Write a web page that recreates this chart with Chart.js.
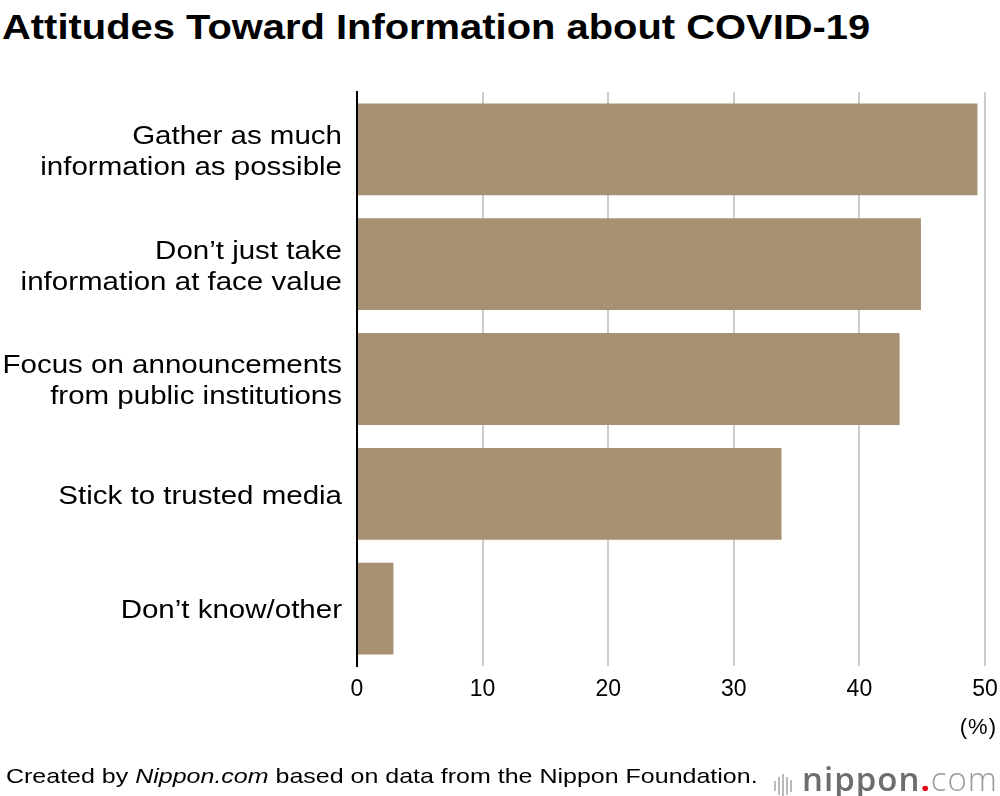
<!DOCTYPE html>
<html>
<head>
<meta charset="utf-8">
<script src="https://cdn.jsdelivr.net/npm/chart.js@4.4.0/dist/chart.umd.min.js"></script>
<style>
  html, body { margin: 0; padding: 0; background: #fff; }
  body { width: 1000px; height: 796px; position: relative; overflow: hidden;
         font-family: "Liberation Sans", Arial, sans-serif; color: #000; }
  #title { position: absolute; left: 2px; top: 7px; font-size: 35px; font-weight: bold; white-space: nowrap;
           transform: scaleX(1.14); transform-origin: 0 0; }
  #wrap { position: absolute; left: 0; top: 0; width: 1000px; height: 796px; }
  #unit { position: absolute; right: 3px; top: 714px; font-size: 22px; letter-spacing: 1px; }
  #credit { position: absolute; left: 6px; top: 764px; font-size: 21px; white-space: nowrap;
            transform: scaleX(1.19); transform-origin: 0 0; }
  #logo { position: absolute; right: 2px; top: 756px; font-family: "Open Sans", "DejaVu Sans", sans-serif;
          font-size: 33px; color: #6d6d6d; letter-spacing: 1px; white-space: nowrap; }
  #logo .bars { display: inline-block; vertical-align: middle; margin-right: 8px; }
  #logo .bars i { display: inline-block; width: 2px; background: #bbb; margin-right: 2px; vertical-align: middle; }
  #logo b { font-weight: 600; }
  #logo .dot { color: #e60012; font-weight: bold; }
  #logo .com { color: #9a9a9a; font-weight: 300; }
</style>
</head>
<body>
<div id="title">Attitudes Toward Information about COVID-19</div>
<div id="wrap"><canvas id="chart"></canvas></div>
<div id="unit">(%)</div>
<div id="credit">Created by <i>Nippon.com</i> based on data from the Nippon Foundation.</div>
<div id="logo"><span class="bars"><i style="height:10px"></i><i style="height:18px"></i><i style="height:24px"></i><i style="height:18px"></i><i style="height:12px"></i></span><b>nippon</b><span class="dot">.</span><span class="com">com</span></div>
<script>
const categories = [
    ["Gather as much", "information as possible"],
    ["Don\u2019t just take", "information at face value"],
    ["Focus on announcements", "from public institutions"],
    "Stick to trusted media",
    "Don\u2019t know/other"
];
const shares = [49.4, 44.9, 43.2, 33.8, 2.9];
const xTicks = [0, 10, 20, 30, 40, 50];

const font = "'Liberation Sans', Arial, sans-serif";
const labelStretch = 1.18;   // the original type is wider than Arial

// stretch the category labels sideways, anchored on their right edge
const wideLabels = {
    id: "wideLabels",
    afterLayout: chart => {
        const y = chart.scales.y;
        if (!y || y._wide) return;
        y._wide = true;
        const base = Object.getPrototypeOf(y).drawLabels;
        y.drawLabels = function (area) {
            const ctx = this.ctx;
            const x0 = this.right - this.options.ticks.padding;
            ctx.save();
            ctx.translate(x0, 3);
            ctx.scale(labelStretch, 1);
            ctx.translate(-x0, 0);
            base.call(this, area);
            ctx.restore();
        };
    }
};

new Chart(document.getElementById("chart"), {
    type: "bar",
    data: {
        labels: categories,
        datasets: [{
            data: shares,
            backgroundColor: "#a89173",
            borderWidth: 0,
            categoryPercentage: 0.8,
            barPercentage: 1.0
        }]
    },
    options: {
        indexAxis: "y",
        responsive: true, maintainAspectRatio: false,
        animation: false,
        layout: { padding: { top: 92, right: 15, bottom: 80, left: 0 } },
        plugins: { legend: { display: false }, tooltip: { enabled: false } },
        scales: {
            x: {
                min: 0, max: 50,
                afterBuildTicks: s => { s.ticks = xTicks.map(v => ({ value: v })); },
                afterFit: s => { s.height = 50; s.paddingLeft = 0; s.paddingRight = 0; },
                grid: { color: "#cccccc", lineWidth: 2, drawTicks: false },
                border: { display: false },
                ticks: { color: "#000", padding: 10, font: { family: font, size: 23 } }
            },
            y: {
                afterFit: s => { s.width = 357; },
                grid: { display: false, drawTicks: false },
                border: { display: true, color: "#000", width: 2 },
                ticks: { color: "#000", padding: 15, font: { family: font, size: 25, lineHeight: 1.24 } }
            }
        }
    },
    plugins: [wideLabels]
});
</script>
</body>
</html>
